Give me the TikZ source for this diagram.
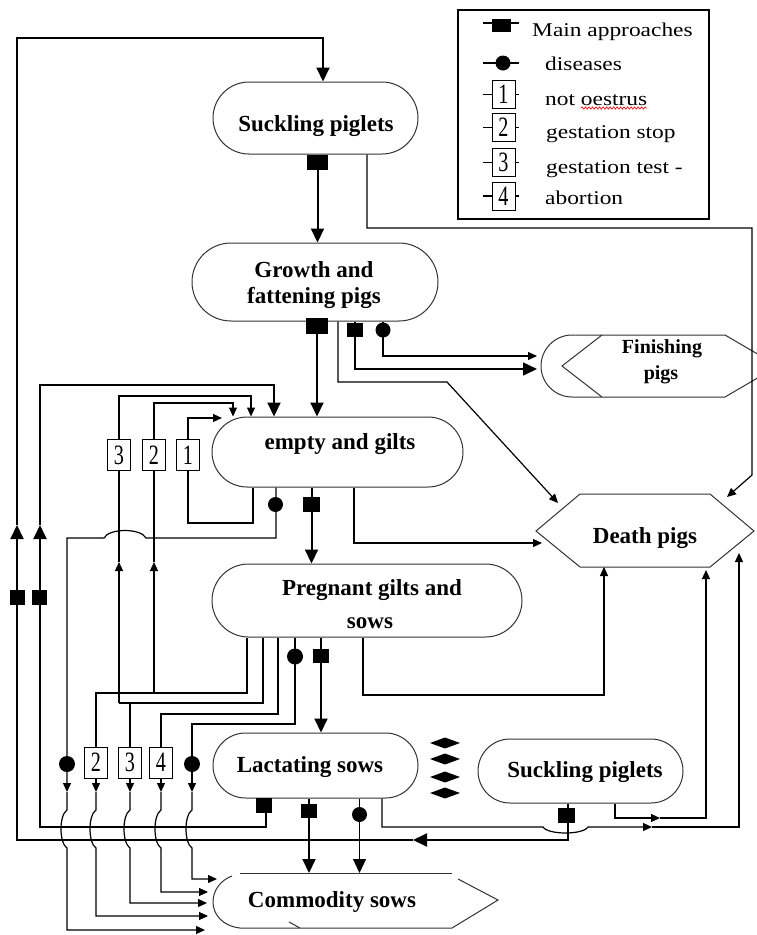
\documentclass[tikz,border=0pt]{standalone}
\usepackage{fontspec}
\setmainfont{Liberation Serif}
\newfontfamily\legfont[FakeStretch=1.2]{Liberation Serif}
\newfontfamily\numfont[FakeStretch=0.72]{Liberation Serif}
\usetikzlibrary{arrows.meta,shapes.misc,decorations.pathmorphing}
\begin{document}
\begin{tikzpicture}[x=1pt,y=-1pt,
  shapeline/.style={draw=black!80, line width=1pt},
  term/.style={shapeline, rounded rectangle, inner sep=0pt},
  ttltxt/.style={font=\bfseries\fontsize{23}{27}\selectfont, anchor=base, inner sep=0pt},
  legtxt/.style={font=\legfont\fontsize{19.5}{22}\selectfont, anchor=base west, inner sep=0pt},
  thinln/.style={line width=1.2pt},
  thickln/.style={line width=2pt},
  smarr/.style={-{Triangle[length=9pt,width=8pt]}},
  bigarr/.style={-{Triangle[length=14pt,width=13pt]}},
  appmark/.style 2 args={fill=black, inner sep=0pt, minimum width=#1, minimum height=#2},
  dismark/.style={circle, fill=black, inner sep=0pt, minimum size=15pt},
  numbox/.style={draw, fill=white, line width=1pt, inner sep=0pt, minimum width=23pt, minimum height=31pt, font=\numfont\fontsize{28}{28}\selectfont}
]
\fill[white] (0,0) rectangle (756,935);
\useasboundingbox (0,0) rectangle (756,935);

% ---------- main nodes ----------
\node[term, minimum width=205pt, minimum height=72pt] (sp1) at (315.5,118) {};
\node[ttltxt] (sp1t) at (316,131) {Suckling piglets};
\node[term, minimum width=246pt, minimum height=78pt] (gf) at (315,282) {};
\node[ttltxt] (gft1) at (314,277) {Growth and};
\node[ttltxt] (gft2) at (314,303) {fattening pigs};
\node[term, minimum width=251pt, minimum height=70pt] (eg) at (337.5,452) {};
\node[ttltxt] (egt) at (340,449) {empty and gilts};
\node[term, minimum width=310pt, minimum height=73pt] (pg) at (367,600.5) {};
\node[ttltxt] (pgt1) at (372,595) {Pregnant gilts and};
\node[ttltxt] (pgt2) at (370,628) {sows};
\node[term, minimum width=205pt, minimum height=65pt] (ls) at (315.5,765.5) {};
\node[ttltxt] (lst) at (310,772) {Lactating sows};
\node[term, minimum width=205pt, minimum height=64pt] (sp2) at (580.5,771) {};
\node[ttltxt] (sp2t) at (585,777) {Suckling piglets};

% Finishing pigs
\draw[shapeline] (572,335) -- (725,335) -- (778,366) -- (725,397) -- (572,397)
  .. controls (555,397) and (541,383) .. (541,366)
  .. controls (541,349) and (555,335) .. (572,335);
\draw[shapeline] (602,335) -- (562,366) -- (602,397);
\node[ttltxt, font=\bfseries\fontsize{20}{22}\selectfont] (fpt1) at (662,353) {Finishing};
\node[ttltxt, font=\bfseries\fontsize{20}{22}\selectfont] (fpt2) at (661,379) {pigs};

% Death pigs
\draw[shapeline] (536,531) -- (580,494) -- (710,494) -- (754,531) -- (710,567) -- (580,567) -- cycle;
\node[ttltxt] (dpt) at (645,543) {Death pigs};

% Commodity sows
\draw[shapeline] (240,873) -- (452,873);
\draw[shapeline] (458,879) -- (498,900) -- (452,928) -- (240,928)
  .. controls (222,926) and (213,914) .. (213,902)
  .. controls (213,890) and (221,880) .. (232,876);
\draw[shapeline] (289,922) -- (300,928);
\node[ttltxt] (cst) at (332,907) {Commodity sows};

% target coordinates
\coordinate (dpA) at (727,497);
\coordinate (dpB) at (558,503);
\coordinate (dpC) at (542,543);
\coordinate (dpD) at (604,567);
\coordinate (dpE) at (706,570);
\coordinate (dpF) at (739,553);
\coordinate (fpA) at (537,356);
\coordinate (fpB) at (537,369);
\coordinate (csA) at (309,873);
\coordinate (csB) at (359.5,873);
\coordinate (csC) at (217,879);
\coordinate (csD) at (208,892);
\coordinate (csE) at (207,903);
\coordinate (csF) at (208,916);
\coordinate (csG) at (205,930);

% number boxes
\node[numbox] (b1u) at (188,455) {1};
\node[numbox] (b2u) at (154,455) {2};
\node[numbox] (b3u) at (119,455) {3};
\node[numbox] (b2l) at (96,762.5) {2};
\node[numbox] (b3l) at (130,762.5) {3};
\node[numbox] (b4l) at (161,762.5) {4};

% ---------- legend ----------
\draw[line width=1.2pt] (458,10) rectangle (709,219);
\draw[thickln] (483,23) -- (519,23);
\node[appmark={19pt}{13pt}] (lq) at (501.5,25) {};
\node[legtxt] (l1) at (532,36.7) {Main approaches};
\draw[thinln] (483,63) -- (519,63);
\node[dismark] (lc) at (503,63) {};
\node[legtxt] (l2) at (545,70.7) {diseases};
\foreach \yy/\nn in {94.5/1,127.5/2,162.5/3,196/4}{
  \draw[thinln] (483,\yy) -- (519,\yy);
  \node[numbox, minimum height=28pt] (lb\nn) at (503.5,\yy) {\nn};
}
\node[legtxt] (l3) at (545,105) {not oestrus};
\node[legtxt] (l4) at (546,138) {gestation stop};
\node[legtxt] (l5) at (546,173) {gestation test -};
\node[legtxt] (l6) at (545,204) {abortion};
\draw[red, line width=0.6pt, decorate, decoration={snake, amplitude=1.2pt, segment length=3.5pt}] (581,108) -- (647,108);

% ---------- connectors ----------
% suckling piglets (top)
\draw[thinln, smarr] (sp1.south -| 367,0) -- (367,228) -- (752,228) -- (752,475) -- (dpA);
\draw[thickln, bigarr] (sp1.south -| 317.5,0) -- (gf.north -| 317.5,0);

% growth and fattening
\draw[thickln, bigarr] (gf.south -| 317,0) -- (eg.north -| 317,0);
\draw[thinln, smarr] (gf.south -| 338,0) -- (338,382) -- (447,382) -- (dpB);
\draw[line width=1.6pt, bigarr] (gf.south -| 355,0) -- (355,369) -- (fpB);
\draw[thinln, smarr] (gf.south -| 383,0) -- (383,356) -- (fpA);

% empty and gilts
\draw[thickln, bigarr] (eg.south -| 311.5,0) -- (pg.north -| 311.5,0);
\draw[thinln, smarr] (eg.south -| 354,0) -- (354,543) -- (dpC);
\draw[thinln] (eg.south -| 253,0) -- (253,523) -- (188,523) -- (b1u.south);
\draw[thinln, smarr] (b1u.north) -- (188,418) -- (222,418);
\draw[thinln, smarr] (eg.south -| 276,0) -- (276,538) -- (146,538)
  .. controls (141,528) and (109,528) .. (104,538) -- (67,538) -- (67,792);
\draw[thinln, smarr] (67,792) -- (67,810) .. controls (59,815) and (59,843) .. (67,848) -- (67,930) -- (csG);

% pregnant gilts and sows
\draw[thinln, smarr] (pg.south -| 363,0) -- (363,695) -- (604,695) -- (dpD);
\draw[thickln, bigarr] (pg.south -| 321,0) -- (ls.north -| 321,0);
% gestation stop
\draw[thinln] (pg.south -| 247,0) -- (247,693) -- (96,693) -- (b2l.north);
\draw[thinln, smarr] (154,693) -- (154,562);
\draw[thinln] (154,562) -- (b2u.south);
\draw[thinln, smarr] (b2u.north) -- (154,403) -- (233,403) -- (eg.north -| 233,0);
\draw[thinln, smarr] (b2l.south) -- (96,792);
\draw[thinln, smarr] (96,792) -- (96,810) .. controls (88,815) and (88,843) .. (96,848) -- (96,916) -- (csF);
% gestation test
\draw[thinln] (pg.south -| 263,0) -- (263,703) -- (119,703);
\draw[thinln, smarr] (119,703) -- (119,562);
\draw[thinln] (119,562) -- (b3u.south);
\draw[thinln, smarr] (b3u.north) -- (119,396) -- (251,396) -- (eg.north -| 251,0);
\draw[thinln] (130,703) -- (b3l.north);
\draw[thinln, smarr] (b3l.south) -- (130,792);
\draw[thinln, smarr] (130,792) -- (130,810) .. controls (122,815) and (122,843) .. (130,848) -- (130,903) -- (csE);
% abortion
\draw[thinln] (pg.south -| 278,0) -- (278,714) -- (161,714) -- (b4l.north);
\draw[thinln, smarr] (b4l.south) -- (161,792);
\draw[thinln, smarr] (161,792) -- (161,810) .. controls (153,815) and (153,843) .. (161,848) -- (161,892) -- (csD);
% diseases
\draw[thinln, smarr] (pg.south -| 295,0) -- (295,724) -- (192,724) -- (192,792);
\draw[thinln, smarr] (192,792) -- (192,810) .. controls (184,815) and (184,843) .. (192,848) -- (192,879) -- (csC);

% lactating sows
\draw[thickln, bigarr] (ls.south -| 309,0) -- (csA);
\draw[thinln, bigarr] (ls.south -| 359.5,0) -- (csB);
\draw[thinln, smarr] (ls.south -| 382,0) -- (382,827) -- (543,827)
  .. controls (548,835) and (583,835) .. (588,827) -- (652,827);
\draw[thinln, smarr] (652,827) -- (739,827) -- (dpF);
\draw[thickln, bigarr] (ls.south -| 266,0) -- (266,827) -- (40,827) -- (40,525);
\draw[thickln, bigarr] (40,525) -- (40,385) -- (274,385) -- (eg.north -| 274,0);

% suckling piglets (bottom)
\draw[thinln, smarr] (sp2.south -| 615,0) -- (615,818) -- (660,818);
\draw[thinln, smarr] (660,818) -- (706,818) -- (dpE);
\draw[thickln, bigarr] (sp2.south -| 568,0) -- (568,840) -- (413,840);
\draw[thickln, bigarr] (413,840) -- (17,840) -- (17,525);
\draw[thickln, bigarr] (17,525) -- (17,38) -- (323,38) -- (sp1.north -| 323,0);

% ---------- markers ----------
\node[appmark={21pt}{15pt}] (q1) at (317.5,162.5) {};
\node[appmark={22pt}{16pt}] (q2) at (317,326) {};
\node[appmark={16pt}{14pt}] (q3) at (355,330) {};
\node[dismark] (c1) at (383,330) {};
\node[appmark={17pt}{15pt}] (q4) at (311.5,504.5) {};
\node[dismark] (c2) at (275.5,504.5) {};
\node[appmark={16pt}{14pt}] (q5) at (321,656) {};
\node[dismark, minimum size=16pt] (c3) at (295,656.5) {};
\node[dismark, minimum size=16pt] (c4) at (67,764) {};
\node[dismark, minimum size=16pt] (c5) at (192,764) {};
\node[appmark={16pt}{15pt}] (q6) at (264,805.5) {};
\node[appmark={16pt}{14pt}] (q7) at (309,811) {};
\node[dismark] (c6) at (359.5,814.5) {};
\node[appmark={17pt}{15pt}] (q8) at (566.5,815.5) {};
\node[appmark={15pt}{15pt}] (q9) at (17.5,597.5) {};
\node[appmark={15pt}{15pt}] (q10) at (39.5,597.5) {};

% diamonds
\foreach \yy in {743,759,777,793}{
  \fill (430,\yy) -- (445,\yy-5.5) -- (460,\yy) -- (445,\yy+5.5) -- cycle;
}
\end{tikzpicture}
\end{document}
